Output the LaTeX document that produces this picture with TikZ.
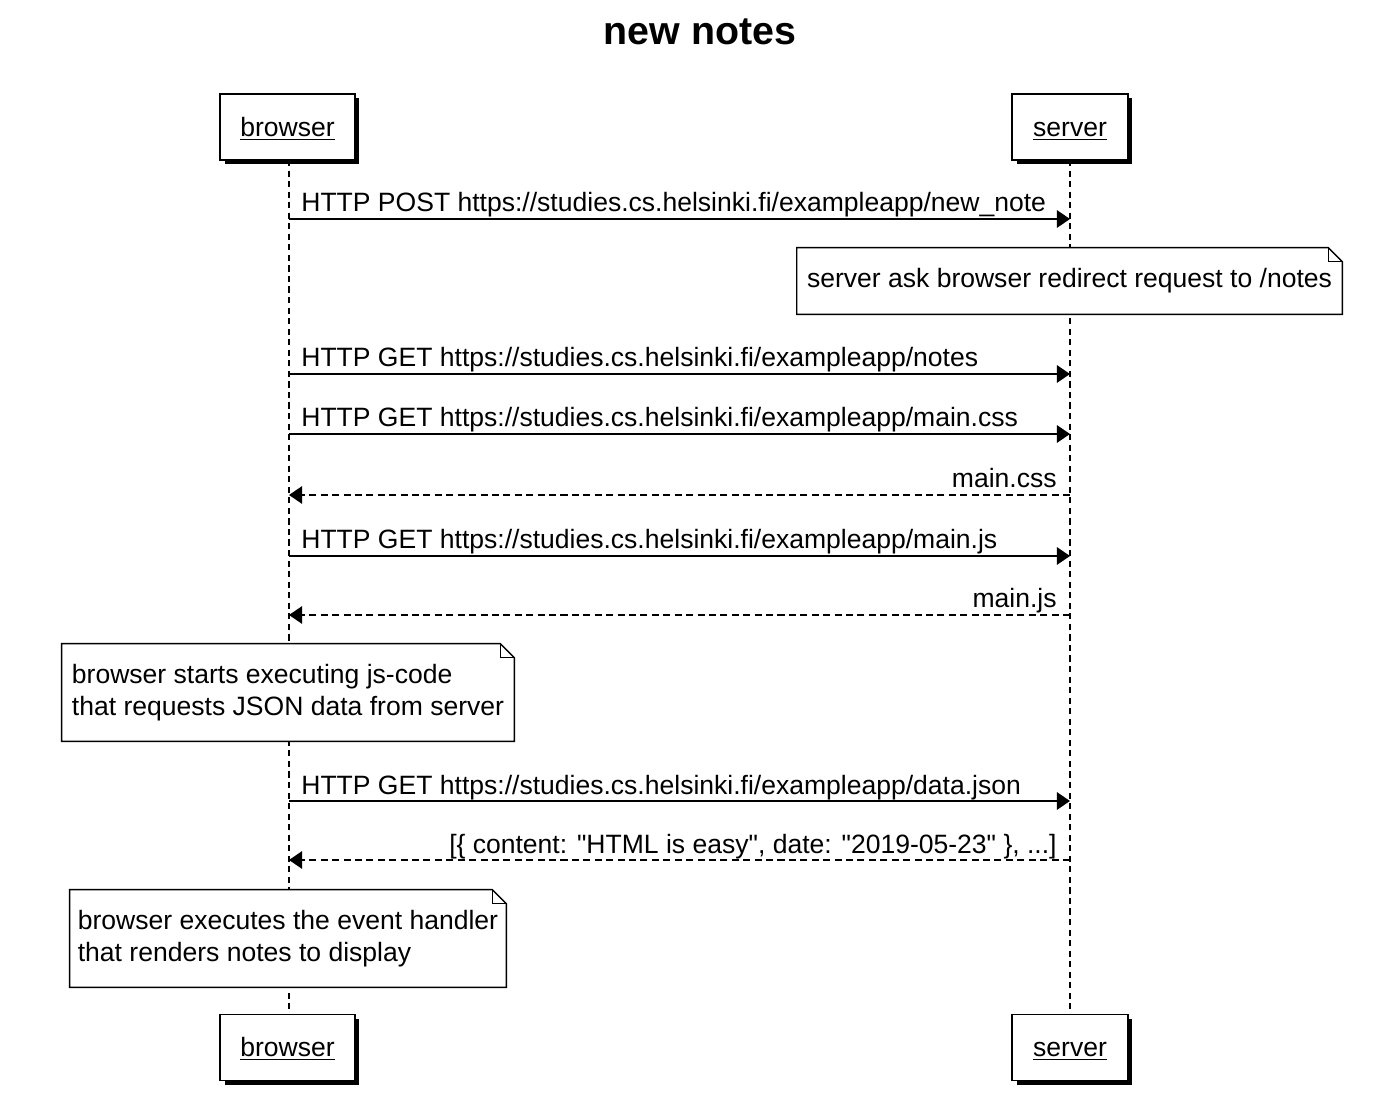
\documentclass[tikz,border=0pt]{standalone}
\usepackage{fontspec}
\setmainfont{Liberation Sans}
\usetikzlibrary{arrows.meta,shadows}

\tikzset{
	actor/.style={draw, line width=1pt, fill=white, minimum height=1.32cm, inner sep=0pt,
		font=\fontsize{15.1}{18}\selectfont, text height=2.4ex, text depth=0.4ex,
		drop shadow={shadow xshift=0.09cm, shadow yshift=-0.09cm, fill=black, opacity=1}},
	lifeline/.style={dash pattern=on 3.5pt off 2.5pt, line width=0.8pt},
	call/.style={line width=0.9pt, -{Triangle[length=7.5pt,width=10pt]}},
	reply/.style={call, dash pattern=on 4pt off 2.5pt},
	msg/.style={font=\fontsize{15.1}{18}\selectfont, inner sep=0pt},
	note/.style={fill=white, align=left, inner sep=0pt, font=\fontsize{15.1}{18}\selectfont},
}

\newcommand{\dogear}[1]{%
	\draw[line width=0.8pt] (#1.north west) -- ([xshift=-0.28cm]#1.north east)
		-- ([yshift=-0.28cm]#1.north east) -- (#1.south east) -- (#1.south west) -- cycle;
	\draw[line width=0.8pt] ([xshift=-0.28cm]#1.north east)
		-- ([xshift=-0.28cm,yshift=-0.28cm]#1.north east) -- ([yshift=-0.28cm]#1.north east);
}

\begin{document}
\begin{tikzpicture}[x=0.02cm, y=-0.02cm]

	\useasboundingbox (0,0) rectangle (1400,1104);

	\node[font=\fontsize{22.4}{26}\selectfont\bfseries] (title) at (700,32) {new notes};

	% participants
	\coordinate (btop) at (289,160);
	\coordinate (bbot) at (289,1015);
	\coordinate (stop) at (1070,160);
	\coordinate (sbot) at (1070,1015);
	\draw[lifeline] (btop) -- (bbot);
	\draw[lifeline] (stop) -- (sbot);

	\node[actor, minimum width=2.7cm] (browser) at (287.5,127) {\underline{browser}};
	\node[actor, minimum width=2.32cm] (server) at (1070,127) {\underline{server}};
	\node[actor, minimum width=2.7cm] (browserend) at (287.5,1047.5) {\underline{browser}};
	\node[actor, minimum width=2.32cm] (serverend) at (1070,1047.5) {\underline{server}};

	% messages
	\coordinate (b1) at (289,219);   \coordinate (s1) at (1070,219);
	\coordinate (b2) at (289,374);   \coordinate (s2) at (1070,374);
	\coordinate (b3) at (289,434);   \coordinate (s3) at (1070,434);
	\coordinate (b4) at (289,495);   \coordinate (s4) at (1070,495);
	\coordinate (b5) at (289,556);   \coordinate (s5) at (1070,556);
	\coordinate (b6) at (289,615);   \coordinate (s6) at (1070,615);
	\coordinate (b7) at (289,801);   \coordinate (s7) at (1070,801);
	\coordinate (b8) at (289,860);   \coordinate (s8) at (1070,860);

	\draw[call] (b1) -- (s1);
	\node[msg, anchor=base west] (m1) at (301,212) {HTTP POST https://studies.cs.helsinki.fi/exampleapp/new\_note};

	\node[note, minimum width=10.9cm, minimum height=1.32cm] (n1) at (1069.5,281) {server ask browser redirect request to /notes};
	\dogear{n1}

	\draw[call] (b2) -- (s2);
	\node[msg, anchor=base west] (m2) at (301,367) {HTTP GET https://studies.cs.helsinki.fi/exampleapp/notes};

	\draw[call] (b3) -- (s3);
	\node[msg, anchor=base west] (m3) at (301,427) {HTTP GET https://studies.cs.helsinki.fi/exampleapp/main.css};

	\draw[reply] (s4) -- (b4);
	\node[msg, anchor=base east] (m4) at (1057,488) {main.css};

	\draw[call] (b5) -- (s5);
	\node[msg, anchor=base west] (m5) at (301,549) {HTTP GET https://studies.cs.helsinki.fi/exampleapp/main.js};

	\draw[reply] (s6) -- (b6);
	\node[msg, anchor=base east] (m6) at (1057,608) {main.js};

	\node[note, minimum width=9.04cm, minimum height=1.94cm] (n2) at (288,692.5)
		{browser starts executing js-code\\that requests JSON data from server};
	\dogear{n2}

	\draw[call] (b7) -- (s7);
	\node[msg, anchor=base west] (m7) at (301,794) {HTTP GET https://studies.cs.helsinki.fi/exampleapp/data.json};

	\draw[reply] (s8) -- (b8);
	\node[msg, anchor=base east] (m8) at (1057,853)
		{[\{ content: \textquotedbl HTML is easy\textquotedbl, date: \textquotedbl 2019-05-23\textquotedbl\ \}, ...]};

	\node[note, minimum width=8.72cm, minimum height=1.94cm] (n3) at (288,938.5)
		{browser executes the event handler\\that renders notes to display};
	\dogear{n3}

\end{tikzpicture}
\end{document}
